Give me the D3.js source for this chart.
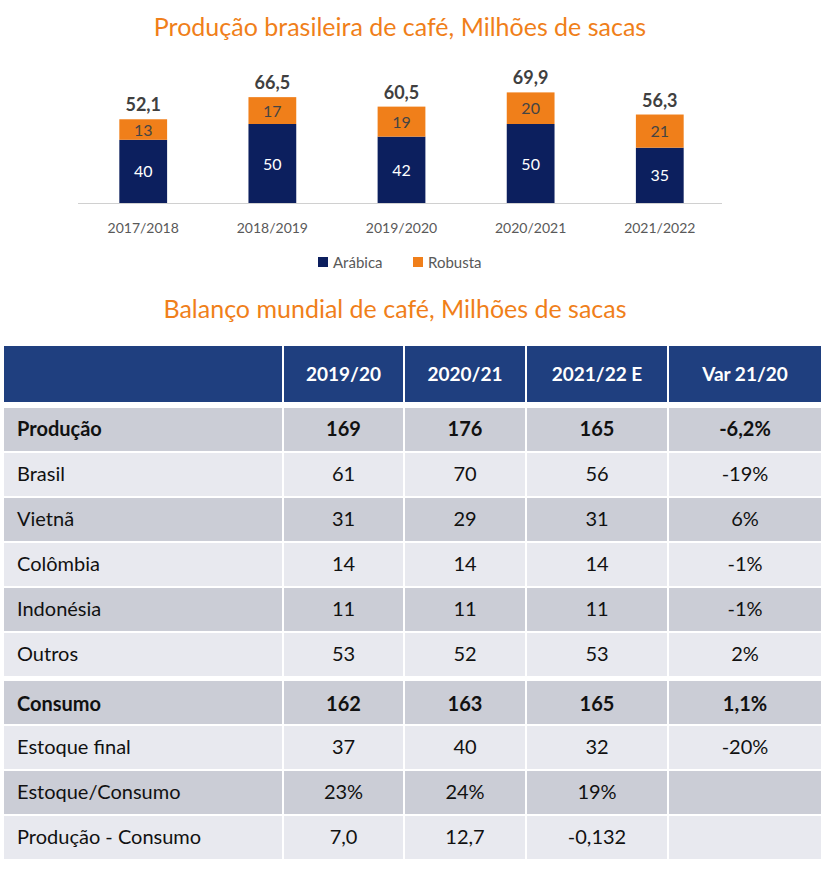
<!DOCTYPE html><html><head><meta charset="utf-8"><script src="https://cdn.jsdelivr.net/npm/d3@7"></script>
<style>body{margin:0;background:#fff}</style></head><body><svg id="c" width="827" height="871"></svg>
<script>
const years=["2017/2018","2018/2019","2019/2020","2020/2021","2021/2022"];
const arabica=[40,50,42,50,35];
const robusta=[13,17,19,20,21];
const totals=["52,1","66,5","60,5","69,9","56,3"];
const header=["","2019/20","2020/21","2021/22 E","Var 21/20"];
const rowLabels=["Produção","Brasil","Vietnã","Colômbia","Indonésia","Outros","Consumo","Estoque final","Estoque/Consumo","Produção - Consumo"];
const col1=["169","61","31","14","11","53","162","37","23%","7,0"];
const col2=["176","70","29","14","11","52","163","40","24%","12,7"];
const col3=["165","56","31","14","11","53","165","32","19%","-0,132"];
const col4=["-6,2%","-19%","6%","-1%","-1%","2%","1,1%","-20%","",""];
const boldRows=[0,6];
const F="Lato, 'Open Sans', sans-serif";
const svg=d3.select("#c").attr("font-family",F);
const OR="#f07f1a",NAVY="#0c1f5e",HB="#1f3f7f";
svg.append("text").attr("x",400).attr("y",36).attr("text-anchor","middle").attr("fill",OR).attr("font-size",25).text("Produção brasileira de café, Milhões de sacas");
const x=d3.scaleBand().domain(years).range([78,725]).paddingInner(0.63).paddingOuter(0.32);
const y=d3.scaleLinear().domain([0,50]).range([203,124]);
const g=svg.append("g");
g.append("line").attr("x1",78).attr("x2",722).attr("y1",203.5).attr("y2",203.5).attr("stroke","#d0d0d0");
years.forEach((yr,i)=>{
 const bx=x(yr),bw=x.bandwidth();
 g.append("rect").attr("x",bx).attr("width",bw).attr("y",y(arabica[i])).attr("height",y(0)-y(arabica[i])).attr("fill",NAVY);
 g.append("rect").attr("x",bx).attr("width",bw).attr("y",y(arabica[i]+robusta[i])).attr("height",y(0)-y(robusta[i])).attr("fill",OR);
 g.append("text").attr("x",bx+bw/2).attr("y",(y(arabica[i])+y(0))/2+6).attr("text-anchor","middle").attr("fill","#fff").attr("font-size",16).text(arabica[i]);
 g.append("text").attr("x",bx+bw/2).attr("y",(y(arabica[i])+y(arabica[i]+robusta[i]))/2+6).attr("text-anchor","middle").attr("fill","#444").attr("font-size",16).text(robusta[i]);
 g.append("text").attr("x",bx+bw/2).attr("y",y(arabica[i]+robusta[i])-8).attr("text-anchor","middle").attr("fill","#404040").attr("font-weight","bold").attr("font-size",18).text(totals[i]);
 g.append("text").attr("x",bx+bw/2).attr("y",233).attr("text-anchor","middle").attr("fill","#595959").attr("font-size",14).text(yr);
});
const lg=svg.append("g").attr("font-size",15).attr("fill","#595959");
lg.append("rect").attr("x",318).attr("y",257).attr("width",10).attr("height",10).attr("fill",NAVY);
lg.append("text").attr("x",333).attr("y",268).text("Arábica");
lg.append("rect").attr("x",413).attr("y",257).attr("width",10).attr("height",10).attr("fill",OR);
lg.append("text").attr("x",428).attr("y",268).text("Robusta");
svg.append("text").attr("x",395).attr("y",318).attr("text-anchor","middle").attr("fill",OR).attr("font-size",25).text("Balanço mundial de café, Milhões de sacas");
const cx=[3,283,404,526,668,822];
const tg=svg.append("g");
header.forEach((h,j)=>{
 tg.append("rect").attr("x",cx[j]).attr("y",345).attr("width",cx[j+1]-cx[j]).attr("height",58).attr("fill",HB).attr("stroke","#fff").attr("stroke-width",2);
 tg.append("text").attr("x",(cx[j]+cx[j+1])/2).attr("y",374+7).attr("text-anchor","middle").attr("fill","#fff").attr("font-weight","bold").attr("font-size",19).text(h);
});
const cols=[col1,col2,col3,col4];
const rowY=i=>407+i*45+(i>=6?3:0);
rowLabels.forEach((lab,i)=>{
 const ry=rowY(i),bold=boldRows.includes(i);
 const fill=i%2===0?"#cbcdd6":"#e8e9ef";
 const vals=[lab,...cols.map(c=>c[i])];
 vals.forEach((v,j)=>{
  tg.append("rect").attr("x",cx[j]).attr("y",ry).attr("width",cx[j+1]-cx[j]).attr("height",i===6?48:45).attr("fill",fill).attr("stroke","#fff").attr("stroke-width",2);
  tg.append("text").attr("x",j===0?cx[0]+14:(cx[j]+cx[j+1])/2).attr("y",ry+(i===6?24:22)+7).attr("text-anchor",j===0?"start":"middle").attr("fill","#111").attr("font-weight",bold?"bold":"normal").attr("font-size",20).text(v);
 });
});
</script></body></html>
